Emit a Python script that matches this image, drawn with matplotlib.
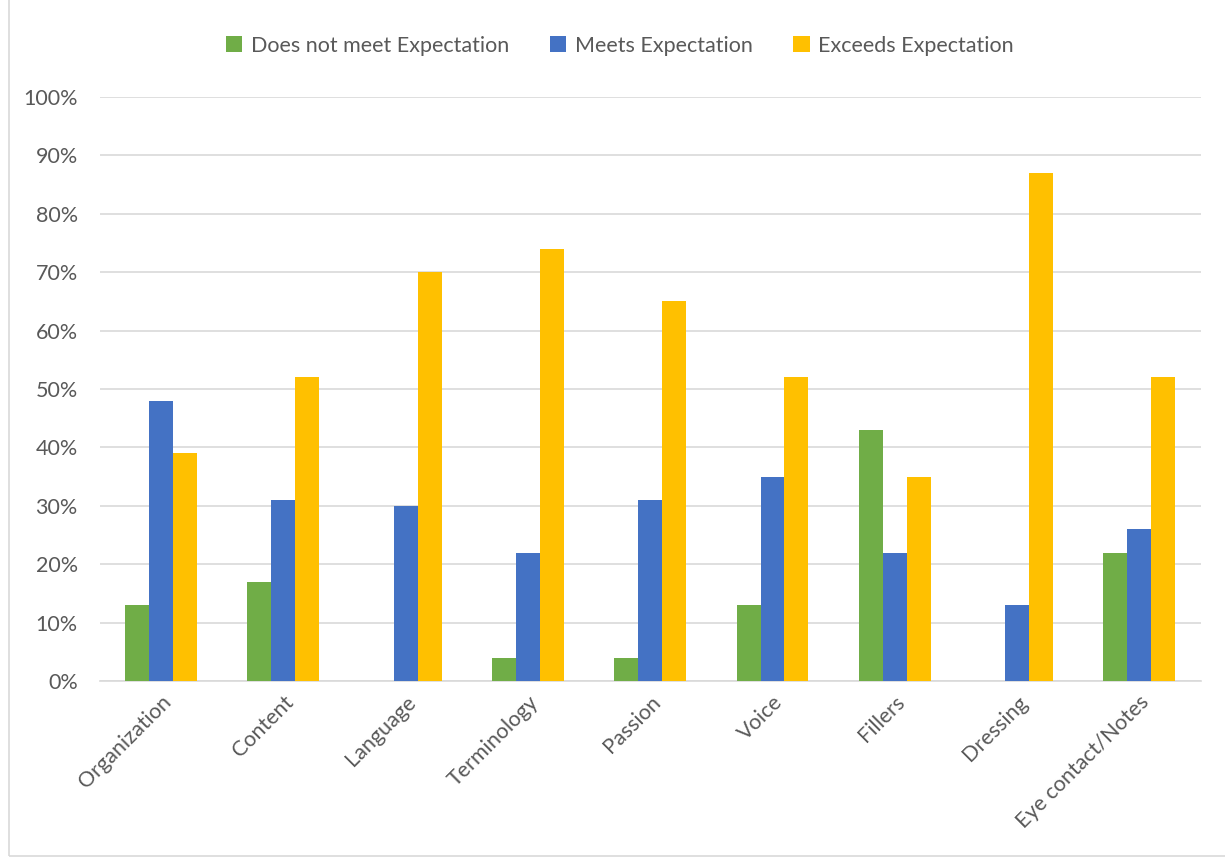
import numpy as np
import matplotlib
matplotlib.use("Agg")
import matplotlib.pyplot as plt
from matplotlib.patches import Rectangle

# chart data (percent)
categories = ["Organization", "Content", "Language", "Terminology", "Passion",
              "Voice", "Fillers", "Dressing", "Eye contact/Notes"]
does_not_meet = [13, 17, 0, 4, 4, 13, 43, 0, 22]
meets = [48, 31, 30, 22, 31, 35, 22, 13, 26]
exceeds = [39, 52, 70, 74, 65, 52, 35, 87, 52]

series_names = ["Does not meet Expectation", "Meets Expectation", "Exceeds Expectation"]
colors = ["#70ad47", "#4472c4", "#ffc000"]

plt.rcParams["font.family"] = ["Lato", "DejaVu Sans"]

fig = plt.figure(figsize=(12.25, 8.59), dpi=100)
ax = fig.add_axes([0.0816, 0.2072, 0.8984, 0.6798])

x = np.arange(len(categories))
w = 0.196
for i, (vals, name, c) in enumerate(zip([does_not_meet, meets, exceeds], series_names, colors)):
    ax.bar(x + (i - 1) * w, vals, width=w, color=c, label=name, zorder=3)

ax.set_xlim(-0.5, len(categories) - 0.5)
ax.set_ylim(0, 100)
ax.set_yticks(np.arange(0, 101, 10))
ax.set_yticklabels([f"{v}%" for v in range(0, 101, 10)])
ax.set_xticks(x)
ax.set_xticklabels(categories, rotation=45, ha="right", va="top", rotation_mode="anchor")

ax.grid(axis="y", color="#d9d9d9", linewidth=1.2, zorder=0)
for s in ["top", "right", "left"]:
    ax.spines[s].set_visible(False)
ax.spines["bottom"].set_color("#d9d9d9")
ax.spines["bottom"].set_linewidth(1.2)
ax.tick_params(axis="both", length=0, labelsize=15.5, colors="#595959")
ax.tick_params(axis="y", pad=16)
ax.tick_params(axis="x", pad=8)

leg = fig.legend(loc="center", bbox_to_anchor=(0.506, 0.947), ncol=3, frameon=False,
                 fontsize=15.5, handlelength=0.75, handleheight=0.75, columnspacing=1.9,
                 handletextpad=0.4)
for t in leg.get_texts():
    t.set_color("#595959")

# outer chart border
fig.patches.append(Rectangle((0.007, 0.004), 1.1, 1.1, transform=fig.transFigure,
                             fill=False, edgecolor="#d9d9d9", linewidth=1.2))

fig.savefig("out.png", dpi=100, facecolor="white")
